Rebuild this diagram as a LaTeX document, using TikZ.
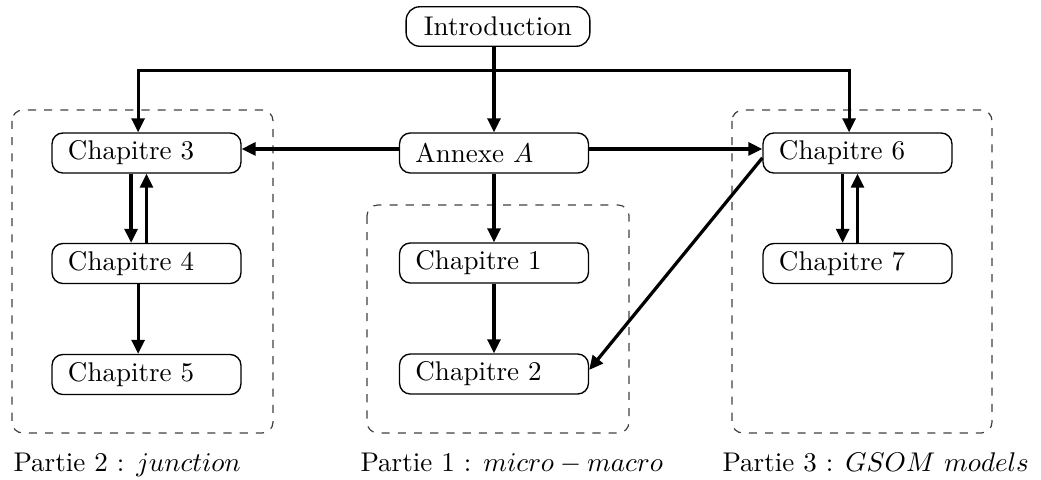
\documentclass[tikz,border=0pt]{standalone}
\usetikzlibrary{arrows.meta}
\begin{document}
\begin{tikzpicture}[x=0.37pt,y=-0.37pt,
  chap/.style={draw, rounded corners=4pt, line width=0.5pt, minimum height=14.8pt,
    text width=58.1pt, align=left, inner xsep=5.9pt, inner ysep=0pt},
  intro/.style={draw, rounded corners=5pt, line width=0.5pt, minimum height=14.6pt,
    inner xsep=6.6pt, inner ysep=0pt},
  arr/.style={line width=1.2pt, -{Triangle[length=5.2pt,width=4.8pt]}},
  frame/.style={draw=black!75, dashed, line width=0.45pt, rounded corners=4pt},
  part/.style={anchor=base west, inner sep=0pt}]
\useasboundingbox (0,0) rectangle (1041,479);

% group frames
\draw[frame] (12,110) rectangle (273,433);
\draw[frame] (367,205) rectangle (629,433);
\draw[frame] (732,110) rectangle (992,433);

% nodes
\node[intro] (intro) at (498,26.5) {Introduction};
\node[chap] (annexe) at (494,153) {Annexe $A$};
\node[chap] (ch3) at (146.5,153) {Chapitre 3};
\node[chap] (ch4) at (146.5,263.5) {Chapitre 4};
\node[chap] (ch5) at (146.5,374.5) {Chapitre 5};
\node[chap] (ch1) at (494,263) {Chapitre 1};
\node[chap] (ch2) at (494,374) {Chapitre 2};
\node[chap] (ch6) at (857.5,153) {Chapitre 6};
\node[chap] (ch7) at (857.5,263.5) {Chapitre 7};

% labels
\node[part] (p2) at (13,471) {Partie 2 : $junction$};
\node[part] (p1) at (360,471) {Partie 1 : $micro - macro$};
\node[part] (p3) at (722,471) {Partie 3 : $GSOM\ models$};

% connectors
\coordinate (bus) at (494,70.7);
\draw[arr] (intro.south -| annexe.north) -- (annexe.north);
\draw[arr] (bus) -| ([xshift=-3.1pt]ch3.north);
\draw[arr] (bus) -| ([xshift=-3.1pt]ch6.north);
\draw[arr] ([yshift=1.5pt]annexe.west) -- ([yshift=1.5pt]ch3.east);
\draw[arr] ([yshift=1.5pt]annexe.east) -- ([yshift=1.5pt]ch6.west);
\draw[arr] (annexe.south) -- (ch1.north);
\draw[arr] (ch1.south) -- (ch2.north);
\draw[arr] ([xshift=-5.7pt]ch3.south) -- ([xshift=-5.7pt]ch4.north);
\draw[arr] (ch4.north) -- (ch3.south);
\draw[arr] ([xshift=-3.1pt]ch4.south) -- ([xshift=-3.1pt]ch5.north);
\draw[arr] ([xshift=-5.5pt]ch6.south) -- ([xshift=-5.5pt]ch7.north);
\draw[arr] (ch7.north) -- (ch6.south);
\draw[arr] ([yshift=-1.8pt]ch6.west) -- ([yshift=1.5pt]ch2.east);
\end{tikzpicture}
\end{document}
